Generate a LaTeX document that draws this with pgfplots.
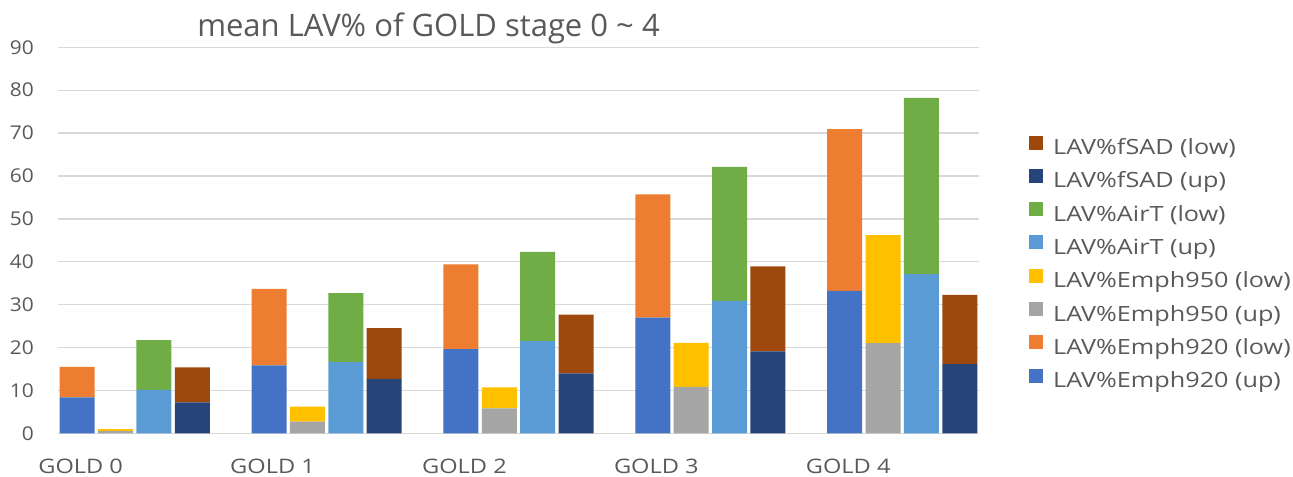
\documentclass[border=0pt]{standalone}
\usepackage{pgfplots}
\usepackage{pgfplotstable}
\pgfplotsset{compat=1.18}
\usepackage{fontspec}
\setmainfont{Open Sans}
\newfontfamily\legfont{Open Sans}[FakeStretch=1.2]
\newfontfamily\xtfont{Open Sans}[FakeStretch=1.18]
\newfontfamily\ytfont{Open Sans}[FakeStretch=1.1]

\definecolor{txtgray}{HTML}{595959}
\definecolor{gridgray}{HTML}{D9D9D9}
\definecolor{cA}{HTML}{4472C4}% Emph920 up
\definecolor{cB}{HTML}{ED7D31}% Emph920 low
\definecolor{cC}{HTML}{A5A5A5}% Emph950 up
\definecolor{cD}{HTML}{FFC000}% Emph950 low
\definecolor{cE}{HTML}{5B9BD5}% AirT up
\definecolor{cF}{HTML}{70AD47}% AirT low
\definecolor{cG}{HTML}{264478}% fSAD up
\definecolor{cH}{HTML}{9E480E}% fSAD low

% one row per bar slot; each slot carries only its own up/low pair
\pgfplotstableread{
x  e920u e920l e950u e950l airu airl fsu   fsl
0  8.4   7.1   0     0     0    0    0     0
1  0     0     0.5   0.5   0    0    0     0
2  0     0     0     0     10.1 11.6 0     0
3  0     0     0     0     0    0    7.2   8.2
5  15.85 17.85 0     0     0    0    0     0
6  0     0     2.7   3.5   0    0    0     0
7  0     0     0     0     16.6 16.1 0     0
8  0     0     0     0     0    0    12.7  11.8
10 19.6  19.8  0     0     0    0    0     0
11 0     0     5.8   4.9   0    0    0     0
12 0     0     0     0     21.5 20.8 0     0
13 0     0     0     0     0    0    14.0  13.65
15 26.95 28.75 0     0     0    0    0     0
16 0     0     10.8  10.3  0    0    0     0
17 0     0     0     0     30.9 31.2 0     0
18 0     0     0     0     0    0    19.1  19.8
20 33.2  37.75 0     0     0    0    0     0
21 0     0     21.05 25.15 0    0    0     0
22 0     0     0     0     37.1 41.1 0     0
23 0     0     0     0     0    0    16.15 16.1
}\lavdata

\begin{document}
\begin{tikzpicture}
\begin{axis}[
  at={(58bp,43.7bp)}, anchor=south west,
  scale only axis, width=921bp, height=386bp,
  ybar stacked, bar width=0.91,
  xmin=-0.5, xmax=23.5, ymin=0, ymax=90,
  ytick={0,10,...,90},
  xtick={0,5,10,15,20},
  xticklabels={GOLD 0,GOLD 1,GOLD 2,GOLD 3,GOLD 4},
  major tick length=0pt,
  axis line style={draw=none},
  ymajorgrids, grid style={gridgray, line width=1.3bp},
  /pgf/number format/assume math mode=true,
  ticklabel style={text=txtgray, inner sep=0pt},
  yticklabel style={anchor=east, xshift=-24bp,
    font=\ytfont\fontsize{19bp}{22bp}\selectfont},
  xticklabel style={anchor=base, yshift=-39.7bp, xshift=3.5bp,
    font=\xtfont\fontsize{20bp}{24bp}\selectfont},
  every axis plot/.append style={draw=none},
  reverse legend,
  legend cell align=left,
  legend image code/.code={\fill[#1] (0bp,0bp) rectangle (14bp,14bp);},
  legend style={
    at={(axis description cs:1.0543,0.772)}, anchor=north west,
    draw=none, fill=none, inner sep=0pt,
    font=\legfont\fontsize{21bp}{24bp}\selectfont, text=txtgray,
    nodes={inner sep=0pt, text height=15bp, text depth=5bp},
    row sep=9.3bp,
    /tikz/every odd column/.append style={column sep=10bp},
  },
]
\addplot[fill=cA] table[x=x, y=e920u] {\lavdata};
\addlegendentry{LAV\%Emph920 (up)}
\addplot[fill=cB] table[x=x, y=e920l] {\lavdata};
\addlegendentry{LAV\%Emph920 (low)}
\addplot[fill=cC] table[x=x, y=e950u] {\lavdata};
\addlegendentry{LAV\%Emph950 (up)}
\addplot[fill=cD] table[x=x, y=e950l] {\lavdata};
\addlegendentry{LAV\%Emph950 (low)}
\addplot[fill=cE] table[x=x, y=airu] {\lavdata};
\addlegendentry{LAV\%AirT (up)}
\addplot[fill=cF] table[x=x, y=airl] {\lavdata};
\addlegendentry{LAV\%AirT (low)}
\addplot[fill=cG] table[x=x, y=fsu] {\lavdata};
\addlegendentry{LAV\%fSAD (up)}
\addplot[fill=cH] table[x=x, y=fsl] {\lavdata};
\addlegendentry{LAV\%fSAD (low)}
\end{axis}
\node[anchor=base, text=txtgray, inner sep=0pt, font=\fontsize{31bp}{36bp}\selectfont]
  at (428.5bp,440.3bp) {mean LAV\% of GOLD stage 0 \textasciitilde{} 4};
\pgfresetboundingbox
\path (0bp,0bp) rectangle (1293bp,477bp);
\end{tikzpicture}
\end{document}
